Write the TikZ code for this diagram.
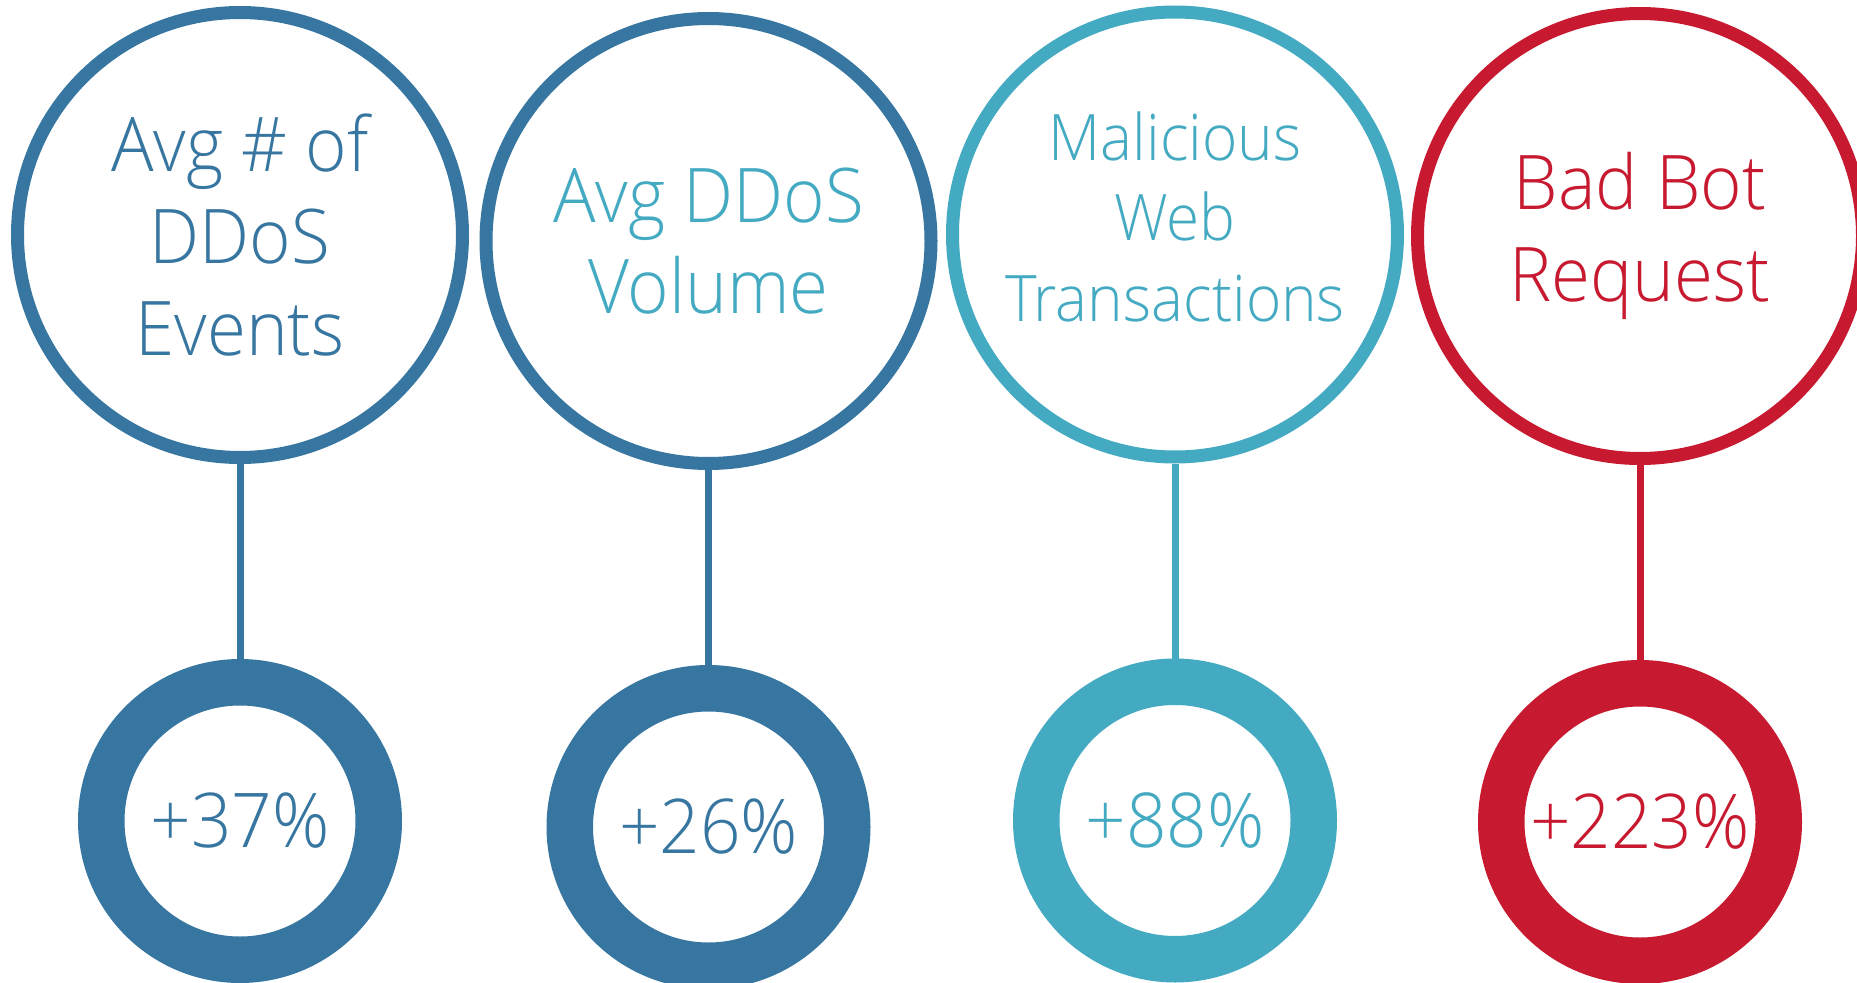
\documentclass[tikz,border=0pt]{standalone}
\usepackage{fontspec}
\setmainfont{Open Sans Light}[FakeStretch=0.94]
\usetikzlibrary{positioning}

\definecolor{ddosblue}{HTML}{3776A0}
\definecolor{webteal}{HTML}{43AAC2}
\definecolor{botred}{HTML}{C7192F}

\tikzset{
  topring/.style={circle, draw=#1, line width=0.26cm, minimum size=8.9cm, inner sep=0pt, fill=white, align=center,
    font=\fontsize{42.9}{52.2}\selectfont},
  smalltext/.style={font=\fontsize{36.5}{45.9}\selectfont, text depth=0.72cm},
  donut/.style 2 args={circle, draw=#1, text=#1, line width=0.93cm, minimum size=5.55cm, inner sep=0pt, fill=white,
    font=\fontsize{43}{52}\selectfont, below=3.9cm of #2},
  stem/.style={draw=#1, line width=0.14cm}
}

\begin{document}
\begin{tikzpicture}
\useasboundingbox (0,0) rectangle (37.14,-19.66);

\node[topring=ddosblue, text=ddosblue] (t1) at (4.80,-4.70) {Avg \# of\\DDoS\\Events};
\node[topring=ddosblue, text=webteal] (t2) at (14.17,-4.82) {Avg DDoS\\Volume};
\node[topring=webteal, text=webteal, smalltext] (t3) at (23.50,-4.69) {Malicious\\Web\\Transactions};
\node[topring=botred, text=botred] (t4) at (32.80,-4.72) {Bad Bot\\Request};

\node[donut={ddosblue}{t1}] (b1) {+37\%};
\node[donut={ddosblue}{t2}] (b2) {+26\%};
\node[donut={webteal}{t3}] (b3) {+88\%};
\node[donut={botred}{t4}] (b4) {+223\%};

\draw[stem=ddosblue] (t1.south) -- (b1.north);
\draw[stem=ddosblue] (t2.south) -- (b2.north);
\draw[stem=webteal] (t3.south) -- (b3.north);
\draw[stem=botred] (t4.south) -- (b4.north);
\end{tikzpicture}
\end{document}
